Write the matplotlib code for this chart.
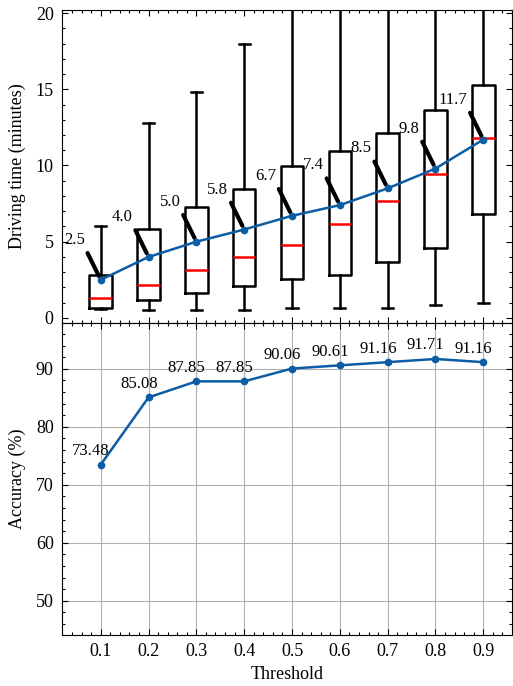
import numpy as np
import matplotlib
matplotlib.use('Agg')
import matplotlib.pyplot as plt
from matplotlib.ticker import MultipleLocator, AutoMinorLocator

plt.rcParams['font.family'] = ['Liberation Serif', 'DejaVu Serif']
plt.rcParams['font.size'] = 13
plt.rcParams['xtick.direction'] = 'in'
plt.rcParams['ytick.direction'] = 'in'
plt.rcParams['xtick.top'] = True
plt.rcParams['ytick.right'] = True

# thresholds
thresholds = [0.1, 0.2, 0.3, 0.4, 0.5, 0.6, 0.7, 0.8, 0.9]

# driving time box stats (minutes)
whis_lo = [0.56, 0.52, 0.52, 0.52, 0.67, 0.67, 0.67, 0.82, 1.0]
q1 = [0.67, 1.16, 1.65, 2.12, 2.53, 2.79, 3.69, 4.62, 6.81]
median = [1.34, 2.17, 3.17, 3.98, 4.8, 6.15, 7.64, 9.47, 11.82]
q3 = [2.84, 5.81, 7.3, 8.47, 9.99, 10.95, 12.1, 13.63, 15.3]
whis_hi = [6.0, 12.8, 14.8, 17.94, 21.5, 23.0, 25.0, 27.0, 30.0]
mean_time = [2.5, 4.0, 5.0, 5.8, 6.7, 7.4, 8.5, 9.8, 11.7]

# accuracy (%)
accuracy = [73.48, 85.08, 87.85, 87.85, 90.06, 90.61, 91.16, 91.71, 91.16]

blue = '#0C5DA5'

fig, (ax1, ax2) = plt.subplots(2, 1, sharex=True, figsize=(5.13, 6.86), dpi=100)
fig.subplots_adjust(left=62/513, right=511.5/513, top=1-10/686, bottom=1-635/686, hspace=0)

# ---- top: boxplot of driving time ----
stats = []
for i in range(len(thresholds)):
    stats.append(dict(med=median[i], q1=q1[i], q3=q3[i],
                      whislo=whis_lo[i], whishi=whis_hi[i], fliers=[]))
ax1.bxp(stats, positions=thresholds, widths=0.047, showfliers=False,
        boxprops=dict(color='black', lw=1.8),
        whiskerprops=dict(color='black', lw=1.8),
        capprops=dict(color='black', lw=1.8),
        medianprops=dict(color='red', lw=1.8))
ax1.plot(thresholds, mean_time, '-o', color=blue, lw=1.8, ms=4.5, zorder=5)

for x, m in zip(thresholds, mean_time):
    ax1.annotate('%.1f' % m, xy=(x, m), xytext=(x - 0.033, m + 2.1),
                 ha='right', va='bottom', fontsize=12,
                 arrowprops=dict(arrowstyle='-', color='black', lw=3,
                                 relpos=(1, 0), shrinkA=2, shrinkB=3))

ax1.set_ylim(-0.3, 20.2)
ax1.set_ylabel('Driving time (minutes)', labelpad=7)
ax1.yaxis.set_major_locator(MultipleLocator(5))
ax1.yaxis.set_minor_locator(AutoMinorLocator(5))

# ---- bottom: accuracy ----
ax2.plot(thresholds, accuracy, '-o', color=blue, lw=1.8, ms=4.5, zorder=5)
for x, a in zip(thresholds, accuracy):
    ax2.annotate('%.2f' % a, xy=(x, a), xytext=(-7, 4), textcoords='offset points',
                 ha='center', va='bottom', fontsize=12)
ax2.set_ylim(44.1, 98.0)
ax2.set_ylabel('Accuracy (%)', labelpad=7)
ax2.set_xlabel('Threshold', labelpad=4)
ax2.yaxis.set_major_locator(MultipleLocator(10))
ax2.yaxis.set_minor_locator(AutoMinorLocator(5))
ax2.grid(True, color='#b0b0b0', lw=0.8)
ax2.set_axisbelow(True)

ax2.set_xlim(0.019, 0.959)
ax2.set_xticks(thresholds)
ax2.set_xticklabels(['%.1f' % t for t in thresholds])
ax2.xaxis.set_minor_locator(AutoMinorLocator(5))

for ax in (ax1, ax2):
    ax.tick_params(which='major', length=4, width=0.8, labelsize=13, pad=6)
    ax.tick_params(which='minor', length=2, width=0.8)
    ax.tick_params(which='both', top=True, right=True)
    for s in ax.spines.values():
        s.set_linewidth(0.8)

fig.savefig('out.png', dpi=100)
